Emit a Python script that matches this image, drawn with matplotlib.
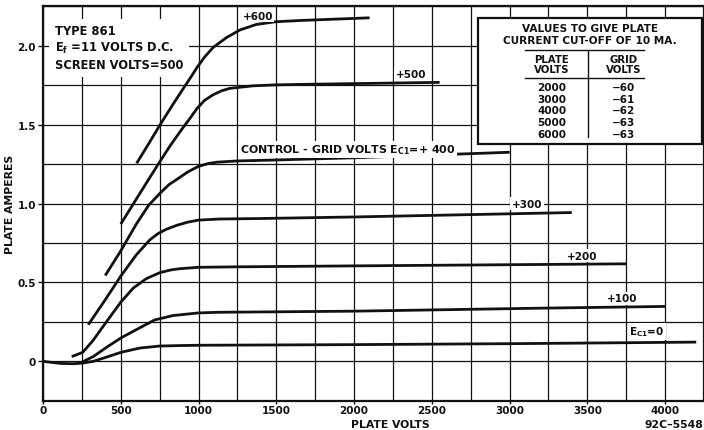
import numpy as np
import matplotlib
matplotlib.use("Agg")
import matplotlib.pyplot as plt
from matplotlib.patches import Rectangle

plt.rcParams["font.family"] = ["DejaVu Sans"]
plt.rcParams["font.weight"] = "bold"
plt.rcParams["mathtext.default"] = "bf"

# Plate characteristic curves, type 861 tetrode (plate volts, plate amperes)
ec0_v = [0, 111, 196, 255, 323, 400, 504, 621, 749, 877, 1000, 1500, 2000, 2500, 3000, 3500, 4200]
ec0_a = [0, -0.013, -0.015, -0.011, 0.0, 0.024, 0.058, 0.084, 0.097, 0.100, 0.102, 0.104, 0.106, 0.109, 0.112, 0.116, 0.122]

ec100_v = [240, 323, 410, 504, 621, 717, 834, 1000, 1132, 2000, 3200, 4000]
ec100_a = [-0.010, 0.030, 0.090, 0.150, 0.212, 0.262, 0.290, 0.307, 0.311, 0.318, 0.337, 0.348]

ec200_v = [185, 255, 320, 400, 500, 581, 666, 751, 820, 878, 999, 1250, 2000, 3750]
ec200_a = [0.030, 0.057, 0.130, 0.240, 0.375, 0.465, 0.525, 0.562, 0.579, 0.587, 0.596, 0.599, 0.605, 0.618]

ec300_v = [291, 400, 500, 600, 687, 740, 793, 860, 930, 999, 1133, 1388, 2000, 3400]
ec300_a = [0.232, 0.390, 0.540, 0.675, 0.770, 0.810, 0.837, 0.862, 0.882, 0.895, 0.902, 0.905, 0.915, 0.943]

ec400_v = [400, 500, 600, 680, 752, 810, 859, 930, 998, 1060, 1115, 1248, 1457, 2000, 3000]
ec400_a = [0.544, 0.700, 0.870, 0.990, 1.065, 1.120, 1.152, 1.200, 1.235, 1.253, 1.262, 1.270, 1.275, 1.290, 1.325]

ec500_v = [500, 620, 741, 820, 892, 945, 992, 1040, 1095, 1150, 1201, 1351, 1494, 1650, 2550]
ec500_a = [0.870, 1.060, 1.250, 1.370, 1.470, 1.540, 1.605, 1.655, 1.690, 1.715, 1.730, 1.746, 1.752, 1.755, 1.768]

ec600_v = [602, 680, 750, 830, 902, 950, 992, 1040, 1095, 1180, 1266, 1372, 1494, 1650, 2100]
ec600_a = [1.255, 1.380, 1.495, 1.620, 1.729, 1.800, 1.865, 1.930, 1.990, 2.052, 2.100, 2.135, 2.152, 2.160, 2.177]

# Cut-off table (10 mA plate current)
cutoff_plate_volts = [2000, 3000, 4000, 5000, 6000]
cutoff_grid_volts = [-60, -61, -62, -63, -63]

x_tick_values = [0, 500, 1000, 1500, 2000, 2500, 3000, 3500, 4000]
y_tick_values = [0, 0.5, 1.0, 1.5, 2.0]
y_tick_labels = ["0", "0.5", "1.0", "1.5", "2.0"]

INK = "#111111"

fig = plt.figure(figsize=(7.04, 4.31), dpi=100)
ax = fig.add_axes([43 / 704, 29.2 / 431, 661 / 704, 394.5 / 431])
ax.set_xlim(0, 4250)
ax.set_ylim(-0.25, 2.25)

ax.set_xticks(x_tick_values)
ax.set_xticks(np.arange(0, 4251, 250), minor=True)
ax.set_xticklabels([str(v) for v in x_tick_values])
ax.set_yticks(y_tick_values)
ax.set_yticks(np.arange(-0.25, 2.26, 0.25), minor=True)
ax.set_yticklabels(y_tick_labels)
ax.tick_params(which="major", length=3.5, width=1.0, color=INK, labelsize=7.5,
               labelcolor=INK, pad=1.5)
ax.tick_params(axis="x", which="major", length=2.5, pad=0.3)
ax.tick_params(which="minor", length=0)
ax.grid(which="both", color=INK, lw=0.9)
ax.set_axisbelow(True)
for s in ax.spines.values():
    s.set_color(INK)
    s.set_linewidth(1.6)

for v, a in [(ec0_v, ec0_a), (ec100_v, ec100_a), (ec200_v, ec200_a),
             (ec300_v, ec300_a), (ec400_v, ec400_a), (ec500_v, ec500_a),
             (ec600_v, ec600_a)]:
    ax.plot(v, a, color=INK, lw=2.0, solid_capstyle="butt",
            solid_joinstyle="round", zorder=3)

lab = dict(fontsize=7.5, color=INK, ha="center", va="center", zorder=4,
           bbox=dict(boxstyle="square,pad=0.15", fc="white", ec="none"))
ax.text(1380, 2.19, "+600", **lab)
ax.text(2364, 1.818, "+500", **lab)
lab_wide = dict(lab, fontsize=7.9)
ax.text(1960, 1.345, r"CONTROL - GRID VOLTS E$_{\rm C1}$=+ 400", **lab_wide)
ax.text(3110, 1.0, "+300", **lab)
ax.text(3464, 0.67, "+200", **lab)
ax.text(3721, 0.40, "+100", **lab)
ax.text(3882, 0.19, r"E$_{\rm C1}$=0", **lab)

ax.text(77, 2.135,
        "TYPE 861\n" r"E$_f$ =11 VOLTS D.C." "\nSCREEN VOLTS=500",
        fontsize=8.3, color=INK, ha="left", va="top", zorder=4,
        linespacing=1.25,
        bbox=dict(boxstyle="square,pad=0.5", fc="white", ec="none"))

# Cut-off table
ax.add_patch(Rectangle((2795, 1.377), 1441, 0.80, fc="white", ec=INK, lw=1.6, zorder=5))
tk = dict(color=INK, ha="center", va="center", zorder=6)
ax.text(3518, 2.114, "VALUES TO GIVE PLATE", fontsize=7.6, **tk)
ax.text(3518, 2.035, "CURRENT CUT-OFF OF 10 MA.", fontsize=7.6, **tk)
ax.plot([3100, 3865], [1.972, 1.972], color=INK, lw=1.0, zorder=6)
ax.plot([3100, 3865], [1.797, 1.797], color=INK, lw=1.0, zorder=6)
ax.plot([3507, 3507], [1.966, 1.424], color=INK, lw=1.0, zorder=6)
ax.text(3271, 1.913, "PLATE", fontsize=7.3, **tk)
ax.text(3271, 1.850, "VOLTS", fontsize=7.3, **tk)
ax.text(3732, 1.913, "GRID", fontsize=7.3, **tk)
ax.text(3732, 1.850, "VOLTS", fontsize=7.3, **tk)
for i, (pv, gv) in enumerate(zip(cutoff_plate_volts, cutoff_grid_volts)):
    yy = 1.741 - i * 0.0755
    ax.text(3271, yy, str(pv), fontsize=7.5, **tk)
    ax.text(3732, yy, f"\u2212{abs(gv)}", fontsize=7.5, **tk)

fig.text(10.5 / 704, 1 - 204 / 431, "PLATE AMPERES", rotation=90, fontsize=7.8,
         color=INK, ha="center", va="center")
fig.text(390 / 704, 0.6 / 431, "PLATE VOLTS", fontsize=7.8, color=INK,
         ha="center", va="bottom")
fig.text(703 / 704, 0.6 / 431, "92C\u20135548", fontsize=7.8, color=INK,
         ha="right", va="bottom")

fig.savefig("out.png", dpi=100)
